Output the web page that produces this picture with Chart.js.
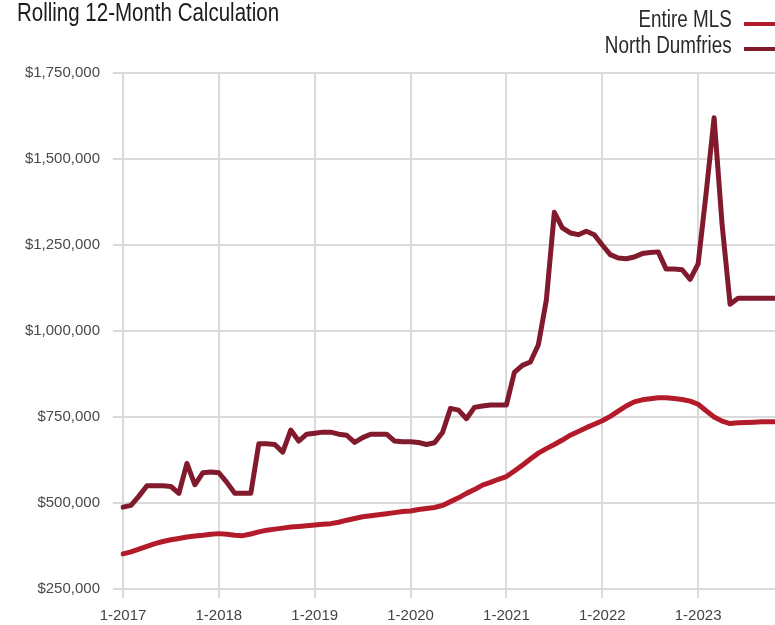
<!DOCTYPE html>
<html>
<head>
<meta charset="utf-8">
<script src="https://cdn.jsdelivr.net/npm/chart.js@4/dist/chart.umd.min.js"></script>
<style>
  html, body { margin: 0; padding: 0; background: #ffffff; width: 775px; height: 625px; overflow: hidden; }
  #wrap { position: relative; width: 775px; height: 625px; overflow: hidden; }
  #c { position: absolute; left: 0; top: 0; }
  .narrow { font-family: "Liberation Sans", Arial, sans-serif; white-space: nowrap; position: absolute; }
  #title { left: 17px; top: 0px; font-size: 25px; line-height: 25px; color: #1c1c1c; transform: scaleX(0.82); transform-origin: 0 0; }
  .legrow { right: 43px; font-size: 23px; line-height: 23px; color: #2a2a2a; transform: scaleX(0.82); transform-origin: 100% 0; }
  .sw { position: absolute; left: 744px; width: 40px; height: 4px; }
</style>
</head>
<body>
<div id="wrap">
  <canvas id="c" width="787" height="625"></canvas>
  <div id="title" class="narrow">Rolling 12-Month Calculation</div>
  <div id="leg1" class="legrow narrow" style="top:8px">Entire MLS</div>
  <div id="sw1" class="sw" style="top:22px"></div>
  <div id="leg2" class="legrow narrow" style="top:34px">North Dumfries</div>
  <div id="sw2" class="sw" style="top:47px"></div>
</div>
<script>
// ---- data ----
const years = [2017, 2018, 2019, 2020, 2021, 2022, 2023];
const monthCount = 83; // Jan 2017 .. Nov 2023
const xTickLabels = ['1-2017', '1-2018', '1-2019', '1-2020', '1-2021', '1-2022', '1-2023'];
const yTickValues = [250000, 500000, 750000, 1000000, 1250000, 1500000, 1750000];

const seriesNames = ['Entire MLS', 'North Dumfries'];
const seriesColors = ['#b31b2b', '#811a2d'];

// Entire MLS, rolling 12-month average price (thousands of $)
const entireMLS = [
  352, 358, 366, 374, 382, 388, 393, 397, 401, 404, 406, 409,
  411, 409, 406, 405, 410, 416, 421, 424, 427, 430, 432, 434,
  436, 438, 440, 444, 450, 455, 460, 463, 466, 469, 472, 475,
  477, 481, 484, 487, 493, 504, 515, 528, 539, 552, 560, 569,
  577, 593, 610, 628, 645, 658, 670, 683, 697, 708, 719, 729,
  739, 752, 767, 782, 794, 800, 803, 806, 806, 804, 801, 796,
  787, 768, 750, 738, 731, 733, 734, 735, 736, 736, 736
];

// North Dumfries, rolling 12-month average price (thousands of $)
const northDumfries = [
  488, 493, 520, 550, 550, 550, 548, 528, 615, 553, 588, 590,
  588, 560, 528, 528, 528, 672, 672, 670, 648, 712, 680, 700,
  703, 706, 706, 700, 697, 676, 690, 700, 700, 700, 680, 678,
  678, 676, 670, 675, 705, 775, 770, 745, 778, 782, 785, 785,
  785, 880, 900, 910, 960, 1090, 1345, 1300, 1285, 1280, 1290, 1280,
  1250, 1222, 1212, 1210, 1215, 1225, 1228, 1230, 1180, 1180, 1178, 1150,
  1195, 1400, 1620, 1310, 1078, 1095, 1095, 1095, 1095, 1095, 1095
];

// ---- categories (month-year) ----
const categories = [];
years.forEach(y => { for (let m = 1; m <= 12; m++) categories.push(m + '-' + y); });
categories.length = monthCount;

document.getElementById('sw1').style.background = seriesColors[0];
document.getElementById('sw2').style.background = seriesColors[1];

const gridColor = '#dadada';
const tickFont = { family: '"Liberation Sans", Arial, sans-serif', size: 15 };

new Chart(document.getElementById('c'), {
  type: 'line',
  data: {
    labels: categories,
    datasets: [
      {
        label: seriesNames[0],
        data: entireMLS.map(v => v * 1000),
        borderColor: seriesColors[0],
        backgroundColor: seriesColors[0],
        borderWidth: 5,
        pointRadius: 0,
        tension: 0,
        borderJoinStyle: 'round',
        borderCapStyle: 'round',
        fill: false
      },
      {
        label: seriesNames[1],
        data: northDumfries.map(v => v * 1000),
        borderColor: seriesColors[1],
        backgroundColor: seriesColors[1],
        borderWidth: 5,
        pointRadius: 0,
        tension: 0,
        borderJoinStyle: 'round',
        borderCapStyle: 'round',
        fill: false
      }
    ]
  },
  options: {
    responsive: false,
    animation: false,
    devicePixelRatio: 1,
    layout: { padding: { top: 73, left: 0, right: 0, bottom: 0 } },
    plugins: {
      legend: { display: false },
      tooltip: { enabled: false },
      title: { display: false }
    },
    scales: {
      x: {
        type: 'category',
        offset: false,
        border: { display: false },
        grid: {
          lineWidth: 2,
          tickLength: 9,
          color: ctx => (ctx.index % 12 === 0 ? gridColor : 'rgba(0,0,0,0)')
        },
        ticks: {
          autoSkip: false,
          maxRotation: 0,
          minRotation: 0,
          padding: 9,
          color: '#444',
          font: tickFont,
          callback: function (val, idx) {
            return idx % 12 === 0 ? xTickLabels[idx / 12] : '';
          }
        },
        afterFit: s => { s.height = 36; }
      },
      y: {
        min: yTickValues[0],
        max: yTickValues[yTickValues.length - 1],
        border: { display: false },
        grid: { lineWidth: 2, tickLength: 10, color: gridColor },
        afterBuildTicks: s => { s.ticks = yTickValues.map(v => ({ value: v })); },
        ticks: {
          padding: 13,
          color: '#4a4a4a',
          font: tickFont,
          callback: v => '$' + Number(v).toLocaleString('en-US')
        },
        afterFit: s => { s.width = 123; }
      }
    }
  }
});
</script>
</body>
</html>
